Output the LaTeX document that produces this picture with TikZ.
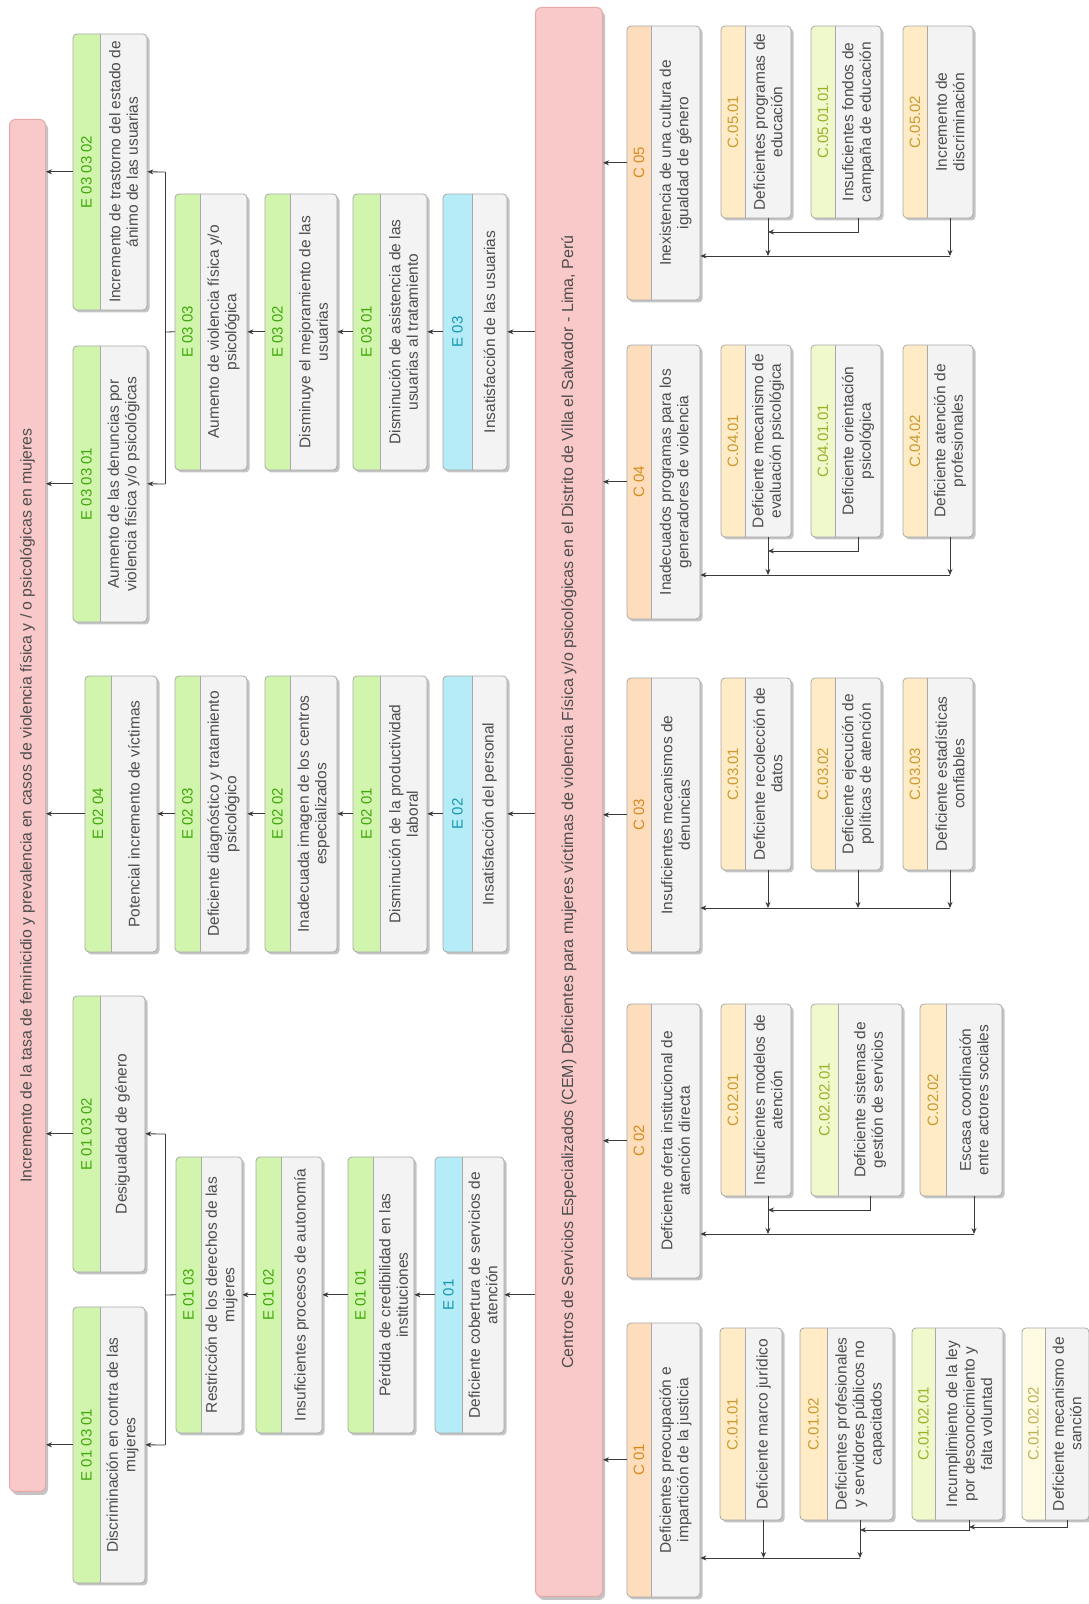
\documentclass[tikz,border=0pt]{standalone}
\usepackage{fontspec}
\setmainfont{Liberation Sans}
\usetikzlibrary{arrows.meta}

\definecolor{greenfill}{HTML}{D2F5AE}
\definecolor{greentxt}{HTML}{3FA80A}
\definecolor{cyanfill}{HTML}{B5ECF7}
\definecolor{cyantxt}{HTML}{1598AE}
\definecolor{orfill}{HTML}{FDDDBC}
\definecolor{ortxt}{HTML}{D88A1E}
\definecolor{yelfill}{HTML}{FFEBC6}
\definecolor{yeltxt}{HTML}{C99A2E}
\definecolor{limefill}{HTML}{F0F9CC}
\definecolor{limetxt}{HTML}{9DB02A}
\definecolor{palefill}{HTML}{FFFBE3}
\definecolor{paletxt}{HTML}{BDB055}
\definecolor{bodyfill}{HTML}{F3F3F3}
\definecolor{boxline}{HTML}{A9A9A9}
\definecolor{shadowc}{HTML}{C4C4C4}
\definecolor{pinkfill}{HTML}{F8C9C8}
\definecolor{pinkline}{HTML}{E6A9A8}
\definecolor{txtc}{HTML}{4D4D4D}
\definecolor{linec}{HTML}{3A3A3A}

\tikzset{
  codetxt/.style={font=\fontsize{15}{17}\selectfont, inner sep=0pt},
  bodytxt/.style={font=\fontsize{15.5}{17.5}\selectfont, text=txtc, align=center, inner sep=0pt},
  boxshape/.style={rectangle, inner sep=0pt, draw=none},
  sepline/.style={draw=boxline, line width=0.6},
  arr/.style={draw=linec, line width=0.8, -{Stealth[length=6pt,width=5pt]}},
  ln/.style={draw=linec, line width=0.8},
  barnode/.style={rectangle, rounded corners=6, fill=pinkfill, draw=pinkline, line width=1, inner sep=0pt},
  bartxt/.style={text=txtc, inner sep=0pt, align=center}
}

% #1 name #2 ux #3 uyd #4 width #5 header h #6 body h #7 colour kind #8 code #9 text
\newcommand{\pbox}[9]{%
  \pgfmathsetmacro{\pbtot}{#5+#6}%
  \pgfmathsetmacro{\pbsep}{#3+#5}%
  \pgfmathsetmacro{\pbhc}{#3+#5/2}%
  \pgfmathsetmacro{\pbbc}{#3+#5+#6/2}%
  \pgfmathsetmacro{\pbcx}{#2+#4/2}%
  \fill[shadowc, rounded corners=4] (#2-2.5,-#3-2.5) rectangle ++(#4,-\pbtot);
  \begin{scope}
    \clip[rounded corners=4] (#2,-#3) rectangle ++(#4,-\pbtot);
    \fill[bodyfill] (#2,-#3) rectangle ++(#4,-\pbtot);
    \fill[#7fill] (#2,-#3) rectangle ++(#4,-#5);
  \end{scope}
  \draw[sepline] (#2,-\pbsep) -- ++(#4,0);
  \draw[boxline, line width=0.8, rounded corners=4] (#2,-#3) rectangle ++(#4,-\pbtot);
  \node[codetxt, text=#7txt] (#1h) at (\pbcx,-\pbhc) {#8};
  \node[bodytxt] (#1b) at (\pbcx,-\pbbc) {#9};
  \node[boxshape, minimum width=#4pt, minimum height=\pbtot pt, anchor=north west] (#1) at (#2,-#3) {};
  \coordinate (#1w) at (#2,-\pbbc);
}

% #1 name #2 ux #3 uyd #4 w #5 h #6 font size #7 text
\newcommand{\pbar}[7]{%
  \fill[shadowc, rounded corners=6] (#2-3,-#3-3) rectangle ++(#4,-#5);
  \node[barnode, minimum width=#4pt, minimum height=#5pt, anchor=north west] (#1) at (#2,-#3) {};
  \node[bartxt, font=\fontsize{#6}{#6}\selectfont] (#1t) at (#1.center) {#7};
}

\begin{document}
\begin{tikzpicture}[x=1pt,y=1pt]
\fill[white] (0,0) rectangle (1089,1604);
\useasboundingbox (0,0) rectangle (1089,1604);
\begin{scope}[rotate=90, transform shape]

% ---------- bars
\pbar{tbar}{112}{9}{1372}{36}{15.8}{Incremento de la tasa de feminicidio y prevalencia en casos de violencia física y / o psicológicas en mujeres}
\pbar{cbar}{7}{535}{1589}{67}{16}{Centros de Servicios Especializados (CEM) Deficientes para mujeres víctimas de violencia Física y/o psicológicas en el Distrito de Villa el Salvador - Lima, Perú}

% ---------- effects
\pbox{e010301}{21}{73}{276}{27}{45}{green}{E 01 03 01}{Discriminación en contra de las\\mujeres}
\pbox{e010302}{332}{73}{276}{27}{45}{green}{E 01 03 02}{Desigualdad de género}
\pbox{e0204}{652}{85}{276}{26}{46}{green}{E 02 04}{Potencial incremento de víctimas}
\pbox{e030301}{982}{73}{276}{27}{47}{green}{E 03 03 01}{Aumento de las denuncias por\\violencia física y/o psicológicas}
\pbox{e030302}{1294}{73}{276}{27}{47}{green}{E 03 03 02}{Incremento de trastorno del estado de\\ánimo de las usuarias}

\pbox{e0103}{171}{176}{276}{25}{41}{green}{E 01 03}{Restricción de los derechos de las\\mujeres}
\pbox{e0102}{171}{256}{276}{25}{41}{green}{E 01 02}{Insuficientes procesos de autonomía}
\pbox{e0101}{171}{348}{276}{25}{41}{green}{E 01 01}{Pérdida de credibilidad en las\\instituciones}
\pbox{e01}{171}{435}{276}{27}{42}{cyan}{E 01}{Deficiente cobertura de servicios de\\atención}

\pbox{e0203}{652}{175}{276}{25}{47}{green}{E 02 03}{Deficiente diagnóstico y tratamiento\\psicológico}
\pbox{e0202}{652}{265}{276}{25}{47}{green}{E 02 02}{Inadecuada imagen de los centros\\especializados}
\pbox{e0201}{652}{353}{276}{27}{47}{green}{E 02 01}{Disminución de la productividad\\laboral}
\pbox{e02}{652}{443}{276}{29}{35}{cyan}{E 02}{Insatisfacción del personal}

\pbox{e0303}{1134}{175}{276}{25}{47}{green}{E 03 03}{Aumento de violencia física y/o\\psicológica}
\pbox{e0302}{1134}{265}{276}{25}{47}{green}{E 03 02}{Disminuye el mejoramiento de las\\usuarias}
\pbox{e0301}{1134}{353}{276}{27}{47}{green}{E 03 01}{Disminución de asistencia de las\\usuarias al tratamiento}
\pbox{e03}{1134}{443}{276}{29}{35}{cyan}{E 03}{Insatisfacción de las usuarias}

% ---------- causes
\pbox{c01}{7}{627}{274}{24}{49}{or}{C 01}{Deficientes preocupación e\\impartición de la justicia}
\pbox{c02}{326}{627}{274}{24}{49}{or}{C 02}{Deficiente oferta institucional de\\atención directa}
\pbox{c03}{652}{627}{274}{24}{49}{or}{C 03}{Insuficientes mecanismos de\\denuncias}
\pbox{c04}{985}{627}{274}{24}{49}{or}{C 04}{Inadecuados programas para los\\generadores de violencia}
\pbox{c05}{1304}{627}{274}{24}{49}{or}{C 05}{Inexistencia de una cultura de\\igualdad de género}

\pbox{c0501}{1386}{721}{192}{24}{46}{yel}{C.05.01}{Deficientes programas de\\educación}
\pbox{c050101}{1386}{811}{192}{24}{46}{lime}{C.05.01.01}{Insuficientes fondos de\\campaña de educación}
\pbox{c0502}{1386}{903}{192}{24}{46}{yel}{C.05.02}{Incremento de\\discriminación}

\pbox{c0401}{1067}{721}{192}{24}{46}{yel}{C.04.01}{Deficiente mecanismo de\\evaluación psicológica}
\pbox{c040101}{1067}{811}{192}{24}{46}{lime}{C.04.01.01}{Deficiente orientación\\psicológica}
\pbox{c0402}{1067}{903}{192}{24}{46}{yel}{C.04.02}{Deficiente atención de\\profesionales}

\pbox{c0301}{734}{721}{192}{24}{46}{yel}{C.03.01}{Deficiente recolección de\\datos}
\pbox{c0302}{734}{811}{192}{24}{46}{yel}{C.03.02}{Deficiente ejecución de\\políticas de atención}
\pbox{c0303}{734}{903}{192}{24}{46}{yel}{C.03.03}{Deficiente estadísticas\\confiables}

\pbox{c0201}{408}{721}{192}{24}{46}{yel}{C.02.01}{Insuficientes modelos de\\atención}
\pbox{c020201}{408}{811}{192}{27}{64}{lime}{C.02.02.01}{Deficiente sistemas de\\gestión de servicios}
\pbox{c0202}{408}{920}{192}{26}{56}{yel}{C.02.02}{Escasa coordinación\\entre actores sociales}

\pbox{c0101}{84}{720}{192}{25}{37}{yel}{C.01.01}{Deficiente marco jurídico}
\pbox{c0102}{84}{800}{192}{27}{66}{yel}{C.01.02}{Deficientes profesionales\\y servidores públicos no\\capacitados}
\pbox{c010201}{84}{912}{192}{23}{68}{lime}{C.01.02.01}{Incumplimiento de la ley\\por desconocimiento y\\falta voluntad}
\pbox{c010202}{84}{1022}{192}{23}{44}{pale}{C.01.02.02}{Deficiente mecanismo de\\sanción}

% ---------- effect connectors
\draw[arr] (e01.south |- cbar.north) -- (e01.south);
\draw[arr] (e01.north) -- (e0101.south);
\draw[arr] (e0101.north) -- (e0102.south);
\draw[arr] (e0102.north) -- (e0103.south);
\coordinate (s1c) at (309,-165);
\coordinate (s1l) at (159,-165);
\coordinate (s1r) at (470,-165);
\draw[ln] (e0103.north) -- (s1c);
\draw[ln] (s1l) -- (s1r);
\draw[arr] (s1l) -- (e010301.south);
\draw[arr] (s1r) -- (e010302.south);
\draw[arr] (e010301.north) -- (e010301.north |- tbar.south);
\draw[arr] (e010302.north) -- (e010302.north |- tbar.south);

\draw[arr] (e02.south |- cbar.north) -- (e02.south);
\draw[arr] (e02.north) -- (e0201.south);
\draw[arr] (e0201.north) -- (e0202.south);
\draw[arr] (e0202.north) -- (e0203.south);
\draw[arr] (e0203.north) -- (e0204.south);
\draw[arr] (e0204.north) -- (e0204.north |- tbar.south);

\draw[arr] (e03.south |- cbar.north) -- (e03.south);
\draw[arr] (e03.north) -- (e0301.south);
\draw[arr] (e0301.north) -- (e0302.south);
\draw[arr] (e0302.north) -- (e0303.south);
\coordinate (s3c) at (1272,-165);
\coordinate (s3l) at (1120,-165);
\coordinate (s3r) at (1432,-165);
\draw[ln] (e0303.north) -- (s3c);
\draw[ln] (s3l) -- (s3r);
\draw[arr] (s3l) -- (e030301.south);
\draw[arr] (s3r) -- (e030302.south);
\draw[arr] (e030301.north) -- (e030301.north |- tbar.south);
\draw[arr] (e030302.north) -- (e030302.north |- tbar.south);

% ---------- cause connectors to the central bar
\foreach \c in {c01,c02,c03,c04,c05}{
  \draw[arr] (\c.north) -- (\c.north |- cbar.south);
}

% C 05
\coordinate (p5a) at (1348,-768);
\coordinate (p5b) at (1348,-950);
\coordinate (q5a) at (1372,-858);
\coordinate (q5b) at (1372,-768);
\draw[arr] (p5b) -- (p5b |- c05.south);
\draw[arr] (c0501w) -- (p5a);
\draw[arr] (c0502w) -- (p5b);
\draw[arr] (c050101w) -- (q5a) -- (q5b);

% C 04
\coordinate (p4a) at (1029,-768);
\coordinate (p4b) at (1029,-950);
\coordinate (q4a) at (1053,-858);
\coordinate (q4b) at (1053,-768);
\draw[arr] (p4b) -- (p4b |- c04.south);
\draw[arr] (c0401w) -- (p4a);
\draw[arr] (c0402w) -- (p4b);
\draw[arr] (c040101w) -- (q4a) -- (q4b);

% C 03
\coordinate (p3a) at (696,-768);
\coordinate (p3b) at (696,-858);
\coordinate (p3c) at (696,-950);
\draw[arr] (p3c) -- (p3c |- c03.south);
\draw[arr] (c0301w) -- (p3a);
\draw[arr] (c0302w) -- (p3b);
\draw[arr] (c0303w) -- (p3c);

% C 02
\coordinate (p2a) at (370,-768);
\coordinate (p2b) at (370,-974);
\coordinate (q2a) at (394,-870);
\coordinate (q2b) at (394,-768);
\draw[arr] (p2b) -- (p2b |- c02.south);
\draw[arr] (c0201w) -- (p2a);
\draw[arr] (c0202w) -- (p2b);
\draw[arr] (c020201w) -- (q2a) -- (q2b);

% C 01
\coordinate (p1a) at (46,-763.5);
\coordinate (p1b) at (46,-860);
\coordinate (q1a) at (74,-969);
\coordinate (q1b) at (74,-860);
\coordinate (r1a) at (77,-1067);
\coordinate (r1b) at (77,-969);
\draw[arr] (p1b) -- (p1b |- c01.south);
\draw[arr] (c0101w) -- (p1a);
\draw[arr] (c0102w) -- (p1b);
\draw[arr] (c010201w) -- (q1a) -- (q1b);
\draw[arr] (c010202w) -- (r1a) -- (r1b);

\end{scope}
\end{tikzpicture}
\end{document}
